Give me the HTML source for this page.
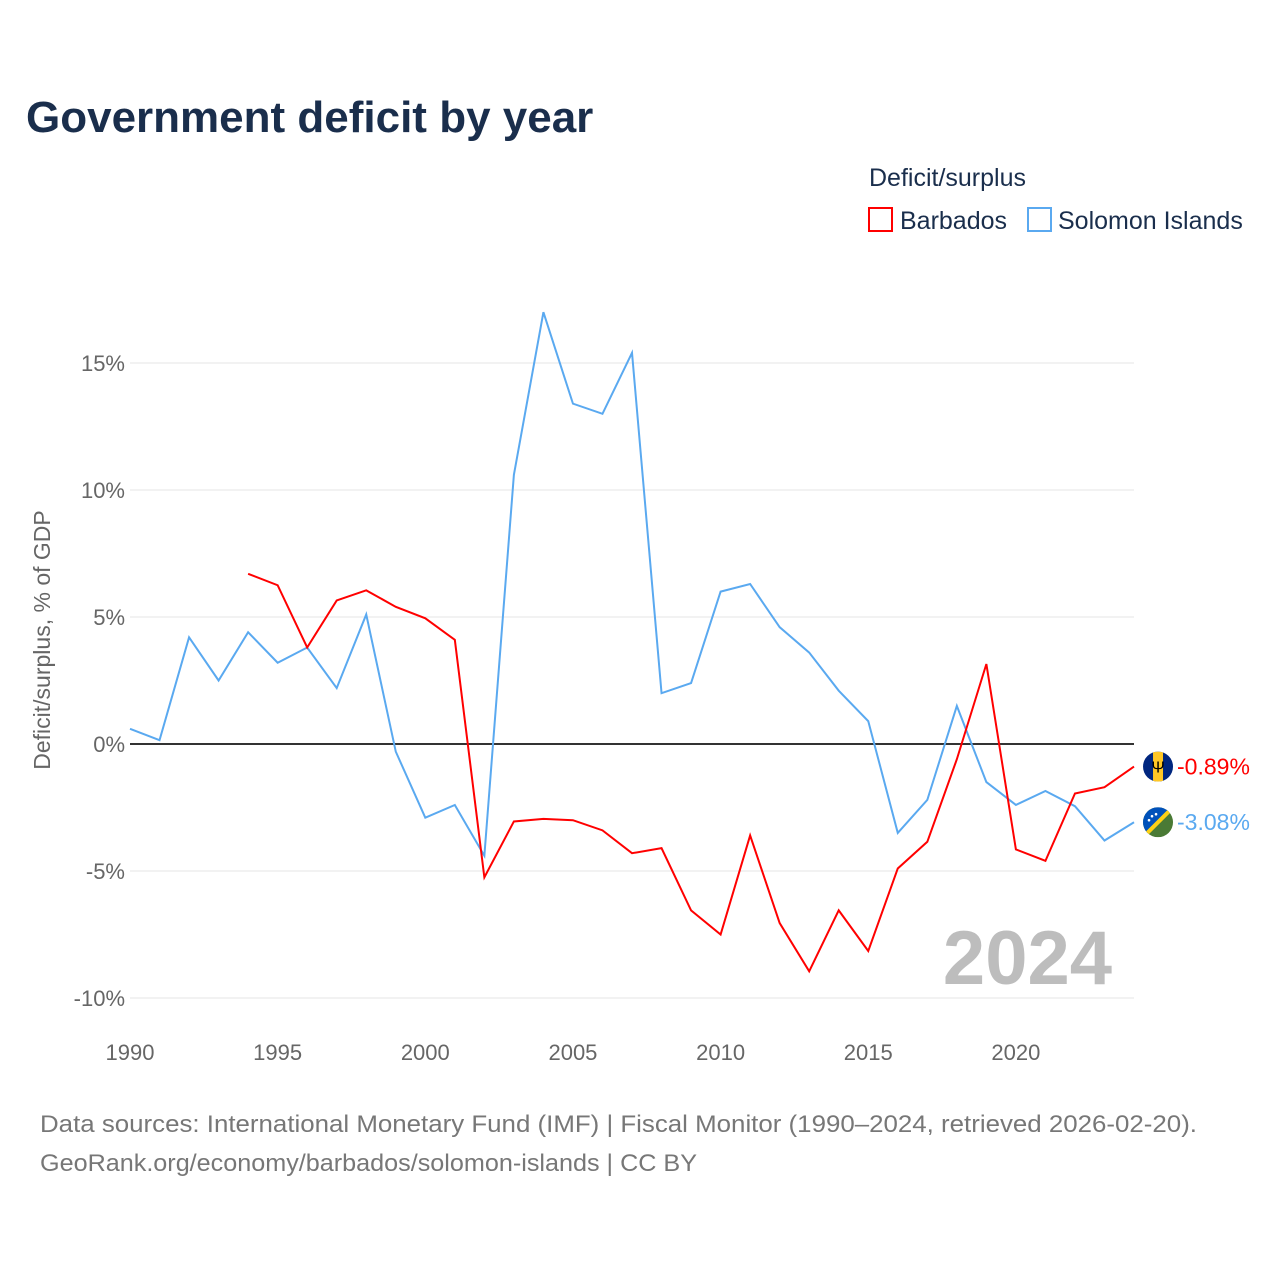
<!DOCTYPE html>
<html><head><meta charset="utf-8"><style>
body{margin:0;background:#fff;width:1280px;height:1280px;overflow:hidden;font-family:"Liberation Sans",sans-serif}
</style></head><body>
<svg id="chart" width="1280" height="1280" xmlns="http://www.w3.org/2000/svg" font-family="Liberation Sans, sans-serif">
<text x="26" y="132" font-size="44" font-weight="bold" fill="#1a2e4c">Government deficit by year</text>
<text x="869" y="186" font-size="25" fill="#1a2e4c">Deficit/surplus</text>
<g><rect x="869" y="208" width="23" height="23" fill="none" stroke="#ff0000" stroke-width="2"/><text x="900" y="229" font-size="25" fill="#1a2e4c">Barbados</text></g>
<g><rect x="1028" y="208" width="23" height="23" fill="none" stroke="#5aa9f0" stroke-width="2"/><text x="1058" y="229" font-size="25" fill="#1a2e4c">Solomon Islands</text></g>
<text transform="translate(50,640) rotate(-90)" text-anchor="middle" font-size="23" fill="#666">Deficit/surplus, % of GDP</text>
<g id="grid"></g><g id="xt"></g>
<text x="1112" y="984" text-anchor="end" font-size="76" font-weight="bold" fill="#bdbdbd">2024</text>
<g id="lines"></g>
<text x="40" y="1132" font-size="24" fill="#777" textLength="1157" lengthAdjust="spacingAndGlyphs">Data sources: International Monetary Fund (IMF) | Fiscal Monitor (1990–2024, retrieved 2026-02-20).</text>
<text x="40" y="1171" font-size="24" fill="#777" textLength="657" lengthAdjust="spacingAndGlyphs">GeoRank.org/economy/barbados/solomon-islands | CC BY</text>
</svg>
<script>
const yearsSI=[1990,1991,1992,1993,1994,1995,1996,1997,1998,1999,2000,2001,2002,2003,2004,2005,2006,2007,2008,2009,2010,2011,2012,2013,2014,2015,2016,2017,2018,2019,2020,2021,2022,2023,2024];
const solomon=[0.6,0.15,4.2,2.5,4.4,3.2,3.8,2.2,5.1,-0.3,-2.9,-2.4,-4.4,10.6,17.0,13.4,13.0,15.4,2.0,2.4,6.0,6.3,4.6,3.6,2.1,0.9,-3.5,-2.2,1.5,-1.5,-2.4,-1.85,-2.45,-3.8,-3.08];
const yearsBB=[1994,1995,1996,1997,1998,1999,2000,2001,2002,2003,2004,2005,2006,2007,2008,2009,2010,2011,2012,2013,2014,2015,2016,2017,2018,2019,2020,2021,2022,2023,2024];
const barbados=[6.7,6.25,3.8,5.65,6.05,5.4,4.95,4.1,-5.25,-3.05,-2.95,-3.0,-3.4,-4.3,-4.1,-6.55,-7.5,-3.6,-7.05,-8.95,-6.55,-8.15,-4.9,-3.85,-0.6,3.15,-4.15,-4.6,-1.95,-1.7,-0.89];
const yTicks=[15,10,5,0,-5,-10];
const xTicks=[1990,1995,2000,2005,2010,2015,2020];
const X=y=>130+(y-1990)*29.53, Y=v=>744-v*25.4;
const NS="http://www.w3.org/2000/svg";
function mk(t,a,p){const e=document.createElementNS(NS,t);for(const k in a)e.setAttribute(k,a[k]);p.appendChild(e);return e;}
const g=document.getElementById('grid');
yTicks.forEach(v=>{
 const l=mk('line',{x1:130,x2:1134,y1:Y(v),y2:Y(v),stroke:v===0?'#333':'#e6e6e6','stroke-width':v===0?2:1},g);
 
 
 const t=mk('text',{x:125,y:Y(v)+8,'text-anchor':'end','font-size':22,fill:'#666'},g);t.textContent=v+'%';
 
 
});
const xt=document.getElementById('xt');
xTicks.forEach(y=>{const t=mk('text',{x:X(y),y:1060,'text-anchor':'middle','font-size':22,fill:'#666'},xt);t.textContent=y;
 
 });
const L=document.getElementById('lines');
function line(ys,vs,c,name){const p=mk('polyline',{points:ys.map((y,i)=>X(y)+','+Y(vs[i])).join(' '),fill:'none',stroke:c,'stroke-width':2},L);
 
 }
line(yearsSI,solomon,'#5aa9f0','solomon-islands-line');
line(yearsBB,barbados,'#ff0000','barbados-line');
function endLabel(ys,vs,c,name,flag){const v=vs[vs.length-1],cx=X(ys[ys.length-1])+24,cy=Y(v);
 const fg=mk('g',{},L);
 
 
 fg.innerHTML=flag(cx,cy);
 const t=mk('text',{x:cx+19,y:cy+8,'font-size':23,fill:c},L);t.textContent=v.toFixed(2)+'%';
 
 }
endLabel(yearsBB,barbados,'#ff0000','barbados',(x,y)=>`<clipPath id="cb"><circle cx="${x}" cy="${y}" r="15"/></clipPath><g clip-path="url(#cb)"><rect x="${x-15}" y="${y-15}" width="30" height="30" fill="#00267f"/><rect x="${x-5}" y="${y-15}" width="10" height="30" fill="#ffc726"/><text x="${x}" y="${y+6}" text-anchor="middle" font-size="16" fill="#000">Ψ</text></g>`);
endLabel(yearsSI,solomon,'#5aa9f0','solomon',(x,y)=>`<clipPath id="cs"><circle cx="${x}" cy="${y}" r="15"/></clipPath><g clip-path="url(#cs)"><rect x="${x-15}" y="${y-15}" width="30" height="30" fill="#4a7a35"/><polygon points="${x-15},${y-15} ${x+15},${y-15} ${x-15},${y+15}" fill="#0051ba"/><line x1="${x+15}" y1="${y-15}" x2="${x-15}" y2="${y+15}" stroke="#fcd116" stroke-width="4"/><circle cx="${x-6}" cy="${y-6}" r="1.3" fill="#fff"/><circle cx="${x-2}" cy="${y-8}" r="1.3" fill="#fff"/><circle cx="${x-9}" cy="${y-2}" r="1.3" fill="#fff"/></g>`);
</script>
</body></html>
